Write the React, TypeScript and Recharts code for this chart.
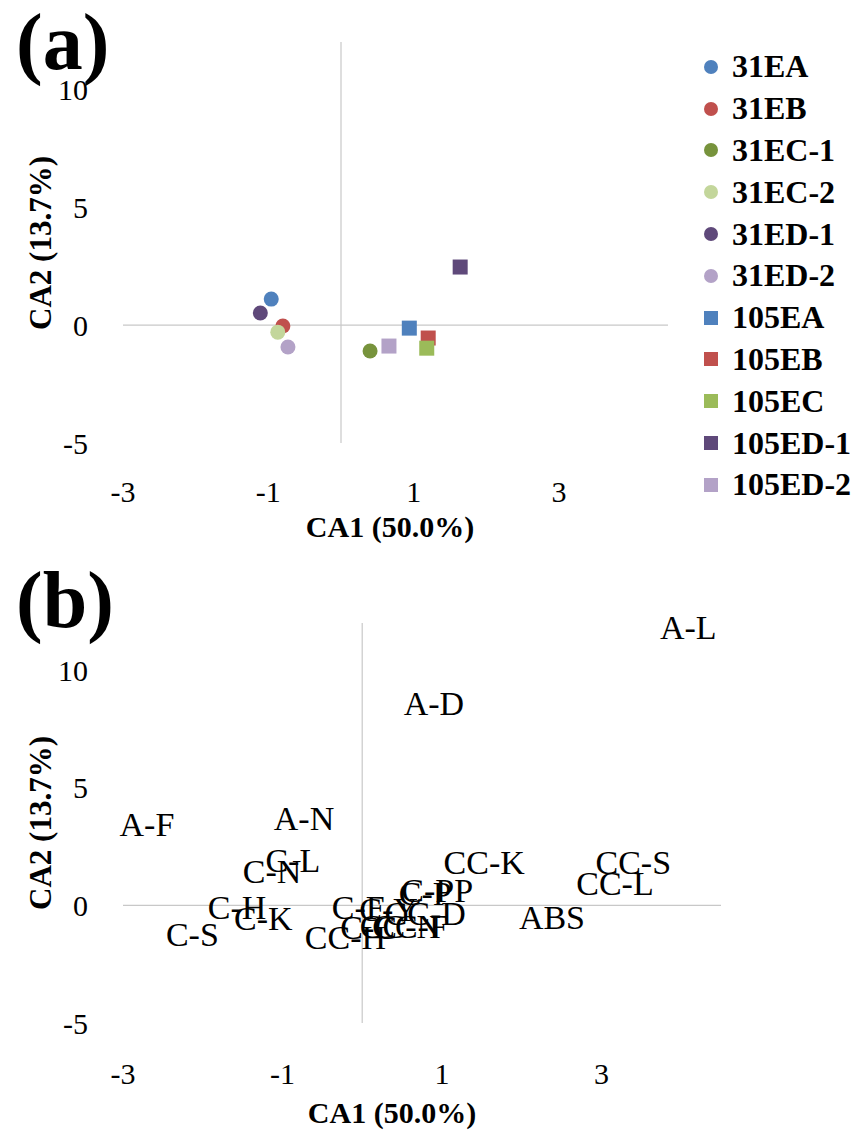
import React from 'react';
import { ScatterChart, Scatter, XAxis, YAxis, ReferenceLine } from 'recharts';

const FONT = '"Liberation Serif", "Times New Roman", serif';

// ---------- Chart (a): samples ----------
const sampleNames = ['31EA', '31EB', '31EC-1', '31EC-2', '31ED-1', '31ED-2', '105EA', '105EB', '105EC', '105ED-1', '105ED-2'];
const sampleX = [-0.96, -0.80, 0.40, -0.87, -1.11, -0.73, 0.94, 1.20, 1.18, 1.64, 0.66];
const sampleY = [1.10, -0.04, -1.10, -0.30, 0.51, -0.93, -0.13, -0.55, -0.98, 2.46, -0.89];
const sampleColors = ['#4F81BD', '#C0504D', '#77933C', '#C3D69B', '#5F497A', '#B3A2C7', '#4F81BD', '#C0504D', '#9BBB59', '#5F497A', '#B3A2C7'];
const sampleShapes = ['circle', 'circle', 'circle', 'circle', 'circle', 'circle', 'square', 'square', 'square', 'square', 'square'];

// ---------- Chart (b): variables ----------
const varLabels = ['A-F', 'A-N', 'A-L', 'A-D', 'C-L', 'C-N', 'C-H', 'C-K', 'C-S', 'CC-H', 'CC-K', 'CC-S', 'CC-L', 'ABS', 'C-P', 'C-PP', 'C-F', 'C-Y', 'CC-D', 'C-C', 'CC-N', 'CC-F'];
const varX = [-2.70, -0.73, 4.09, 0.90, -0.87, -1.13, -1.57, -1.24, -2.13, -0.21, 1.53, 3.40, 3.17, 2.38, 0.79, 0.94, -0.05, 0.33, 0.79, 0.08, 0.48, 0.60];
const varY = [3.45, 3.70, 11.83, 8.60, 1.91, 1.45, -0.09, -0.55, -1.23, -1.35, 1.83, 1.83, 0.94, -0.50, 0.51, 0.64, -0.09, -0.17, -0.34, -0.94, -0.89, -0.89];

const xTicks = [-3, -1, 1, 3];
const yTicks = [-5, 0, 5, 10];
const xDomain: [number, number] = [-3, 4.5];
const yDomain: [number, number] = [-5, 12];

const sampleSeries = sampleNames.map((name, i) => ({
  name,
  color: sampleColors[i],
  shape: sampleShapes[i],
  data: [{ x: sampleX[i], y: sampleY[i] }],
}));

const varData = varLabels.map((label, i) => ({ x: varX[i], y: varY[i], label }));

const tickStyle = { fontSize: 30, fill: '#000', fontFamily: FONT };

const makeShape = (color: string, kind: string) => (props: any) => {
  const { cx, cy } = props;
  if (cx == null || cy == null) return <g />;
  if (kind === 'square') {
    return <rect x={cx - 7.5} y={cy - 7.5} width={15} height={15} fill={color} />;
  }
  return <circle cx={cx} cy={cy} r={7.5} fill={color} />;
};

const textShape = (props: any) => {
  const { cx, cy, payload } = props;
  if (cx == null || cy == null) return <g />;
  return (
    <text x={cx} y={cy} textAnchor="middle" dominantBaseline="central" fontSize={34} fontFamily={FONT} fill="#000">
      {payload.label}
    </text>
  );
};

const LegendBox = () => (
  <div style={{ position: 'absolute', left: 700, top: 46, width: 165, fontFamily: FONT }}>
    {sampleSeries.map((s) => (
      <div key={s.name} style={{ height: 41.8, display: 'flex', alignItems: 'center' }}>
        <div
          style={{
            width: 14,
            height: 14,
            borderRadius: s.shape === 'circle' ? '50%' : 0,
            background: s.color,
            marginRight: 14,
            marginLeft: 4,
            flex: '0 0 auto',
          }}
        />
        <span style={{ fontSize: 32, fontWeight: 'bold', color: '#000', whiteSpace: 'nowrap', fontFamily: FONT }}>{s.name}</span>
      </div>
    ))}
  </div>
);

const xTitle = (x: number, y: number) => () => (
  <text x={x} y={y} textAnchor="middle" fontSize={30} fontWeight="bold" fontFamily={FONT} fill="#000">
    CA1 (50.0%)
  </text>
);

const yTitle = () => (
  <text
    x={40}
    y={243}
    transform="rotate(-90 40 243)"
    textAnchor="middle"
    dominantBaseline="central"
    fontSize={31}
    fontWeight="bold"
    fontFamily={FONT}
    fill="#000"
  >
    CA2 (13.7%)
  </text>
);

export default function App() {
  return (
    <div style={{ position: 'absolute', left: 0, top: 0, width: 865, height: 1135, background: '#fff', fontFamily: FONT }}>
      <div style={{ position: 'absolute', left: 0, top: 0 }}>
        <ScatterChart width={865} height={560} margin={{ top: 42, right: 197, bottom: 57, left: 63 }}>
          <XAxis
            type="number"
            dataKey="x"
            domain={xDomain}
            ticks={xTicks}
            axisLine={false}
            tickLine={false}
            tickSize={0}
            tickMargin={38}
            height={60}
            tick={tickStyle}
            label={{ content: xTitle(390, 537) }}
          />
          <YAxis
            type="number"
            dataKey="y"
            domain={yDomain}
            ticks={yTicks}
            axisLine={false}
            tickLine={false}
            tickSize={0}
            tickMargin={35}
            width={60}
            tick={tickStyle}
            label={{ content: yTitle }}
          />
          <ReferenceLine x={0} stroke="#C8C8C8" strokeWidth={1.2} />
          <ReferenceLine y={0} stroke="#C8C8C8" strokeWidth={1.2} />
          {sampleSeries.map((s) => (
            <Scatter
              key={s.name}
              name={s.name}
              data={s.data}
              fill={s.color}
              shape={makeShape(s.color, s.shape)}
              isAnimationActive={false}
            />
          ))}
        </ScatterChart>
      </div>
      <LegendBox />

      <div style={{ position: 'absolute', left: 0, top: 580 }}>
        <ScatterChart width={865} height={555} margin={{ top: 43, right: 144, bottom: 52, left: 63 }}>
          <XAxis
            type="number"
            dataKey="x"
            domain={xDomain}
            ticks={xTicks}
            axisLine={false}
            tickLine={false}
            tickSize={0}
            tickMargin={40}
            height={60}
            tick={tickStyle}
            label={{ content: xTitle(392, 543) }}
          />
          <YAxis
            type="number"
            dataKey="y"
            domain={yDomain}
            ticks={yTicks}
            axisLine={false}
            tickLine={false}
            tickSize={0}
            tickMargin={35}
            width={60}
            tick={tickStyle}
            label={{ content: yTitle }}
          />
          <ReferenceLine x={0} stroke="#C8C8C8" strokeWidth={1.2} />
          <ReferenceLine y={0} stroke="#C8C8C8" strokeWidth={1.2} />
          <Scatter name="variables" data={varData} fill="#000" shape={textShape} isAnimationActive={false} />
        </ScatterChart>
      </div>

      <div style={{ position: 'absolute', left: 16, top: 2, fontSize: 80, lineHeight: '80px', fontWeight: 'bold', fontFamily: FONT }}>(a)</div>
      <div style={{ position: 'absolute', left: 16, top: 560, fontSize: 80, lineHeight: '80px', fontWeight: 'bold', fontFamily: FONT }}>(b)</div>
    </div>
  );
}
